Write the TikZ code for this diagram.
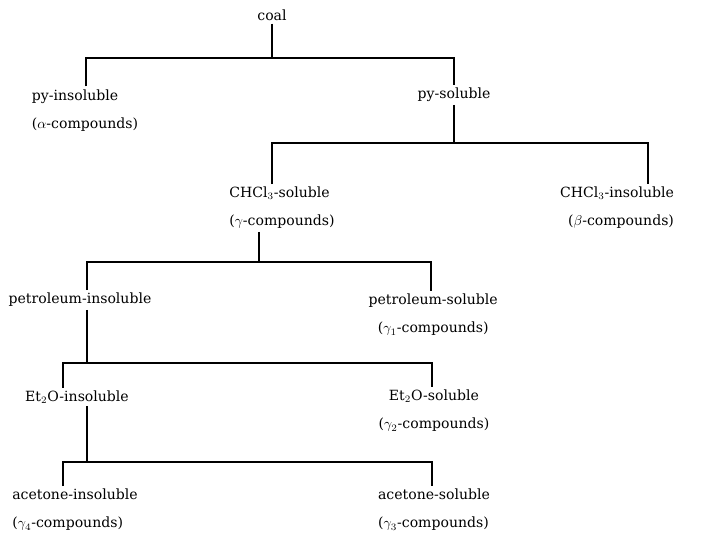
\documentclass[tikz,border=0pt]{standalone}
\usepackage{fontspec}
\setmainfont{DejaVu Serif}
\usepackage{tikz}
\tikzstyle{fr}=[inner sep=2pt,font=\fontsize{10}{12}\selectfont]
\tikzstyle{frl}=[fr,align=left]
\tikzstyle{frc}=[fr,align=center]
\tikzstyle{frr}=[fr,align=right]
\tikzstyle{link}=[line width=1pt]

\begin{document}
\begin{tikzpicture}
            \useasboundingbox (0,0) rectangle (17.6,-13.3);
            % fractions
            \node[fr] (coal) at (6.8, -0.375) {coal};
            \node[frl] (pyins) at (2.125, -2.76) {py-insoluble\\[8pt]($\alpha$-compounds)};
            \node[fr] (pysol) at (11.35, -2.375) {py-soluble};
            \node[frl] (chsol) at (7.05, -5.2) {CHCl$_3$-soluble\\[8pt]($\gamma$-compounds)};
            \node[frr] (chins) at (15.425, -5.2) {CHCl$_3$-insoluble\\[8pt]($\beta$-compounds)};
            \node[fr] (petins) at (2.0, -7.5) {petroleum-insoluble};
            \node[frc] (petsol) at (10.83, -7.875) {petroleum-soluble\\[8pt]($\gamma_1$-compounds)};
            \node[fr] (etins) at (1.925, -9.925) {Et$_2$O-insoluble};
            \node[frc] (etsol) at (10.85, -10.275) {Et$_2$O-soluble\\[8pt]($\gamma_2$-compounds)};
            \node[frl] (acins) at (1.875, -12.75) {acetone-insoluble\\[8pt]($\gamma_4$-compounds)};
            \node[frl] (acsol) at (10.85, -12.75) {acetone-soluble\\[8pt]($\gamma_3$-compounds)};

            % bar ends and stems
            \coordinate (b1l) at (2.15, -1.45);
            \coordinate (b1m) at (6.8, -1.45);
            \coordinate (b1r) at (11.35, -1.45);
            \coordinate (b2l) at (6.8, -3.575);
            \coordinate (b2m) at (11.35, -3.575);
            \coordinate (b2r) at (16.2, -3.575);
            \coordinate (b3l) at (2.175, -6.55);
            \coordinate (b3m) at (6.475, -6.55);
            \coordinate (b3r) at (10.775, -6.55);
            \coordinate (b4l) at (1.575, -9.075);
            \coordinate (b4m) at (2.175, -9.075);
            \coordinate (b4r) at (10.8, -9.075);
            \coordinate (b5l) at (1.575, -11.55);
            \coordinate (b5m) at (2.175, -11.55);
            \coordinate (b5r) at (10.8, -11.55);

            \draw[link] (b1m |- coal.south) -- (b1m);
            \draw[link] (pyins.north -| b1l) -- (b1l) -- (b1r) -- (pysol.north -| b1r);

            \draw[link] (b2m |- pysol.south) -- (b2m);
            \draw[link] (chsol.north -| b2l) -- (b2l) -- (b2r) -- (chins.north -| b2r);

            \draw[link] (b3m |- chsol.south) -- (b3m);
            \draw[link] (petins.north -| b3l) -- (b3l) -- (b3r) -- (petsol.north -| b3r);

            \draw[link] (b4m |- petins.south) -- (b4m);
            \draw[link] (etins.north -| b4l) -- (b4l) -- (b4r) -- (etsol.north -| b4r);

            \draw[link] (b5m |- etins.south) -- (b5m);
            \draw[link] (acins.north -| b5l) -- (b5l) -- (b5r) -- (acsol.north -| b5r);
        \end{tikzpicture}
\end{document}
